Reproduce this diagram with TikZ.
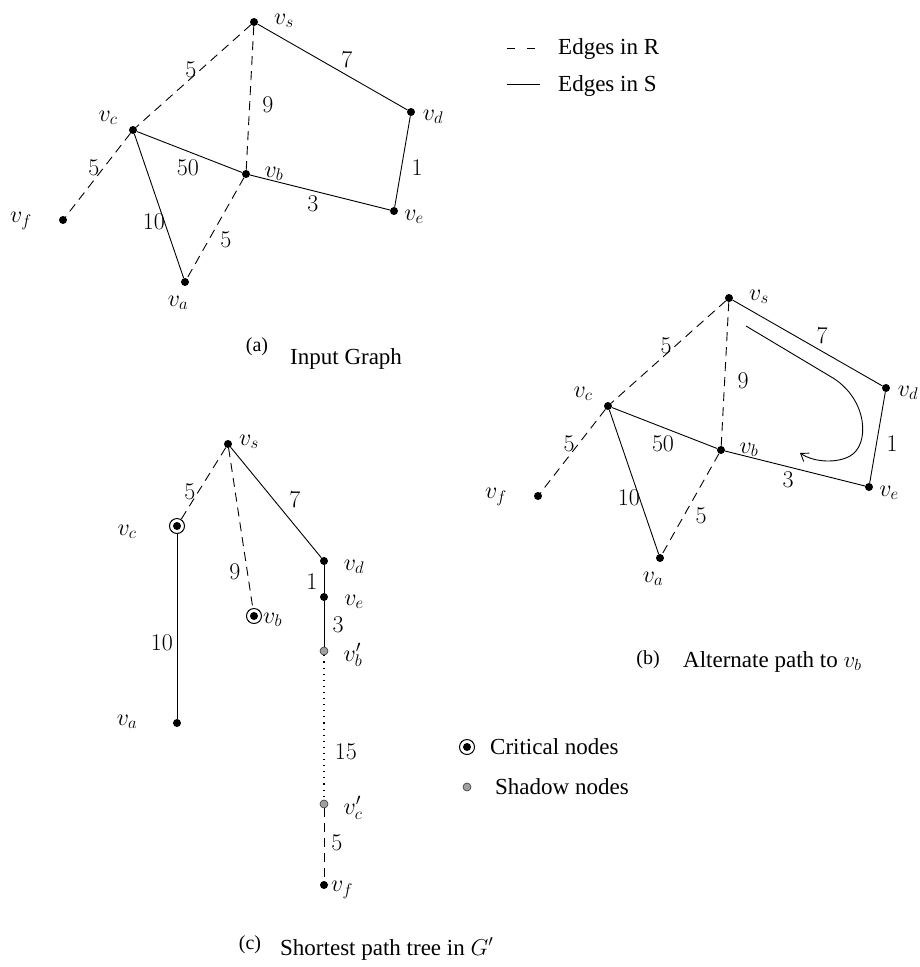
\RequirePackage{fix-cm}
\documentclass[tikz,border=0pt]{standalone}
\usepackage{fontspec}
\setmainfont{Liberation Serif}
\usetikzlibrary{arrows.meta}
\tikzset{
 vtx/.style={circle,fill=black,inner sep=0pt,minimum size=8pt},
 crit/.style={circle,draw,line width=1pt,inner sep=0pt,minimum size=15pt,fill=white,
   path picture={\fill[black] (path picture bounding box.center) circle (4pt);}},
 shad/.style={circle,fill=gray!75,draw=gray!40!black,line width=0.6pt,inner sep=0pt,minimum size=8pt},
 lbl/.style={inner sep=0pt,font=\fontsize{24}{28}\selectfont},
 txt/.style={inner sep=0pt,font=\fontsize{23}{27}\selectfont},
 captag/.style={inner sep=0pt,font=\fontsize{20}{24}\selectfont},
 edgeR/.style={line width=0.9pt,dash pattern=on 9pt off 6pt},
 edgeS/.style={line width=0.9pt},
 edgeD/.style={line width=1.1pt,dash pattern=on 1.1pt off 5pt},
}
\newcommand{\inputgraph}[1]{%
  \node[vtx] (#1s) at (254,22) {};
  \node[vtx] (#1d) at (411,112) {};
  \node[vtx] (#1c) at (133,130) {};
  \node[vtx] (#1b) at (246,174) {};
  \node[vtx] (#1e) at (394,211) {};
  \node[vtx] (#1f) at (63,220) {};
  \node[vtx] (#1a) at (185,282) {};
  \node[lbl] (#1Ls) at (284,21) {$v_s$};
  \node[lbl] (#1Ld) at (433,117) {$v_d$};
  \node[lbl] (#1Lc) at (108,118) {$v_c$};
  \node[lbl] (#1Lb) at (274,174) {$v_b$};
  \node[lbl] (#1Le) at (414,217) {$v_e$};
  \node[lbl] (#1Lf) at (21,221) {$v_f$};
  \node[lbl] (#1La) at (178,303) {$v_a$};
  \draw[edgeR] (#1s) -- (#1c);
  \draw[edgeR] (#1s) -- (#1b);
  \draw[edgeS] (#1s) -- (#1d);
  \draw[edgeS] (#1d) -- (#1e);
  \draw[edgeS] (#1b) -- (#1e);
  \draw[edgeS] (#1c) -- (#1b);
  \draw[edgeR] (#1c) -- (#1f);
  \draw[edgeS] (#1c) -- (#1a);
  \draw[edgeR] (#1b) -- (#1a);
  \node[lbl] (#1w1) at (191,70) {$5$};
  \node[lbl] (#1w2) at (347,60) {$7$};
  \node[lbl] (#1w3) at (268,105) {$9$};
  \node[lbl] (#1w4) at (188,168) {$50$};
  \node[lbl] (#1w5) at (417,168) {$1$};
  \node[lbl] (#1w6) at (94,168) {$5$};
  \node[lbl] (#1w7) at (313,204) {$3$};
  \node[lbl] (#1w8) at (154,222) {$10$};
  \node[lbl] (#1w9) at (226,240) {$5$};
}
\begin{document}
\begin{tikzpicture}[x=1pt,y=-1pt]
\useasboundingbox (0,0) rectangle (920,967);

% (a)
\inputgraph{a}
\node[captag,anchor=base] (capa) at (257,351) {(a)};
\node[txt,anchor=base west] (capat) at (290,364) {Input Graph};

% legend top
\coordinate (lr1) at (507,48);
\coordinate (lr2) at (535,48);
\draw[line width=0.9pt,dash pattern=on 8pt off 12pt] (lr1) -- (lr2);
\node[txt,anchor=west] (legR) at (558,49) {Edges in R};
\coordinate (ls1) at (507,84);
\coordinate (ls2) at (540,84);
\draw[edgeS] (ls1) -- (ls2);
\node[txt,anchor=west] (legS) at (558,86) {Edges in S};

% (b)
\begin{scope}[shift={(475,276)}]
\inputgraph{b}
\end{scope}
\coordinate (ar1) at (746,326);
\coordinate (ar2) at (833,378);
\coordinate (ar3) at (850,456);
\coordinate (ar4) at (800,453);
\draw[line width=0.9pt,-{Straight Barb[length=7pt,width=10pt]}] (ar1) -- (ar2)
  .. controls (868,400) and (870,445) .. (ar3)
  .. controls (838,463) and (815,463) .. (ar4);
\node[captag,anchor=base] (capb) at (648,664) {(b)};
\node[txt,anchor=base west] (capbt) at (683,667) {Alternate path to $v_b$};

% (c)
\node[vtx] (cs) at (228,444) {};
\node[crit] (cc) at (177,526) {};
\node[vtx] (cd) at (324,561) {};
\node[vtx] (ce) at (324,597) {};
\node[crit] (cb) at (254,616) {};
\node[shad] (cbp) at (324,651) {};
\node[vtx] (ca) at (177,723) {};
\node[shad] (ccp) at (324,804) {};
\node[vtx] (cf) at (324,885) {};
\node[lbl] (cLs) at (249,442) {$v_s$};
\node[lbl] (cLc) at (127,532) {$v_c$};
\node[lbl] (cLd) at (354,567) {$v_d$};
\node[lbl] (cLe) at (354,602) {$v_e$};
\node[lbl,anchor=west] (cLb) at (263,620) {$v_b$};
\node[lbl] (cLbp) at (353,655) {$v_b'$};
\node[lbl] (cLa) at (127,722) {$v_a$};
\node[lbl] (cLcp) at (353,808) {$v_c'$};
\node[lbl,anchor=west] (cLf) at (331,890) {$v_f$};
\draw[edgeR] (cs) -- (cc);
\draw[edgeR] (cs) -- (cb);
\draw[edgeS] (cs) -- (cd);
\draw[edgeS] (cd) -- (ce);
\draw[edgeS] (ce) -- (cbp);
\draw[edgeD] (cbp) -- (ccp);
\draw[edgeR] (ccp) -- (cf);
\draw[edgeS] (cc) -- (ca);
\node[lbl] (cw1) at (190,492) {$5$};
\node[lbl] (cw2) at (295,500) {$7$};
\node[lbl] (cw3) at (235,572) {$9$};
\node[lbl] (cw4) at (312,582) {$1$};
\node[lbl] (cw5) at (338,625) {$3$};
\node[lbl] (cw6) at (162,643) {$10$};
\node[lbl] (cw7) at (346,752) {$15$};
\node[lbl] (cw8) at (337,843) {$5$};

% legend bottom
\node[crit] (lgc) at (467,747) {};
\node[txt,anchor=west] (lgct) at (490,747) {Critical nodes};
\node[shad] (lgs) at (467,787) {};
\node[txt,anchor=west] (lgst) at (495,787) {Shadow nodes};

\node[captag,anchor=base] (capc) at (250,949) {(c)};
\node[txt,anchor=base west] (capct) at (280,955) {Shortest path tree in $G'$};
\end{tikzpicture}
\end{document}
